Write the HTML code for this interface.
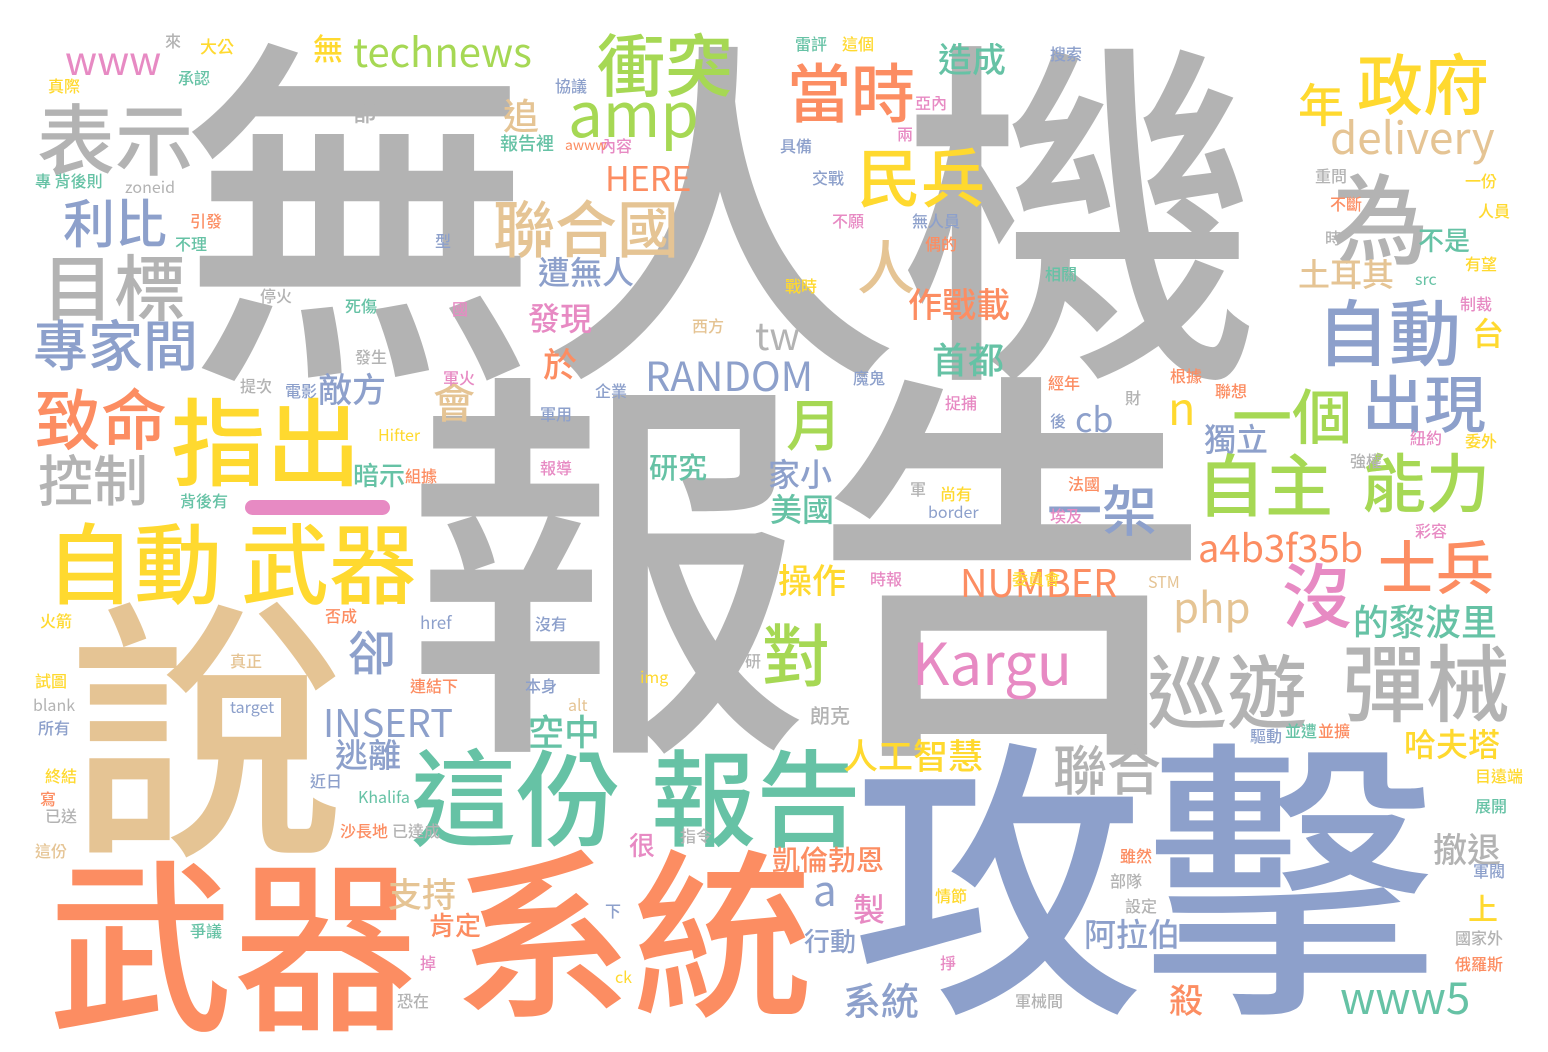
<!DOCTYPE html>
<html><head><meta charset="utf-8">
<style>
html,body{margin:0;padding:0;background:#fff;}
#cloud{position:relative;width:1548px;height:1052px;overflow:hidden;background:#fff;}
.w{position:absolute;white-space:nowrap;line-height:1;font-family:"Noto Sans CJK TC","Noto Sans CJK SC","Liberation Sans",sans-serif;font-weight:500;}
.w.lat{font-weight:400;}
</style></head>
<body>
<div id="cloud">
<div style="position:absolute;left:245px;top:500px;width:145px;height:15px;border-radius:8px;background:#e78ac3;"></div>
</div>
<script>
const G="#b3b3b3",O="#fc8d62",B="#8da0cb",P="#e78ac3",L="#a6d854",Y="#ffd92f",N="#e5c494",T="#66c2a5";
// [text, left, top, size, color]
const words=[
["無人機",180,13,360,G],["報告",404,340,405,G],["攻擊",852,718,292,B],["說",69,577,275,N],
["武器",48,844,185,O],["系統",453,834,180,O],["這份",411,745,105,T],["報告",651,745,105,T],
["自動",46,520,88,Y],["武器",241,520,88,Y],["指出",171,394,95,Y],["表示",37,100,78,G],
["目標",42,251,72,G],["專家間",33,317,55,B],["利比",63,197,52,B],["致命",35,386,66,O],
["控制",38,452,55,G],["衝突",597,31,68,L],["amp",568,79,62,L],["technews",353,30,40,L],
["www",65,38,40,P],["當時",787,61,64,O],["民兵",857,146,64,Y],["聯合國",493,196,62,N],
["政府",1357,51,66,Y],["年",1298,82,46,Y],["delivery",1330,113,44,N],["為",1331,169,98,G],
["自動",1317,296,72,B],["出現",1362,371,62,B],["n",1168,383,45,Y],["一個",1232,386,60,L],
["獨立",1204,423,32,B],["自主",1197,451,68,L],["能力",1362,451,64,L],["a4b3f35b",1198,527,38,O],
["沒",1282,561,70,P],["士兵",1378,537,58,O],["php",1173,585,42,N],["的黎波里",1353,603,36,T],
["巡遊",1147,651,80,G],["彈械",1342,641,84,G],["Kargu",912,631,58,P],["聯合",1053,742,54,G],
["哈夫塔",1404,728,32,Y],["撤退",1433,832,34,G],["上",1468,893,30,Y],["阿拉伯",1084,918,32,B],
["殺",1169,983,34,O],["www5",1340,973,44,T],["系統",843,982,38,B],["行動",804,929,26,B],
["凱倫勃恩",772,846,28,O],["製",853,893,32,P],["a",813,868,42,B],["很",629,833,26,P],
["支持",388,877,34,N],["肯定",429,913,26,O],["空中",528,713,36,T],["逃離",335,738,33,B],
["人工智慧",843,738,35,Y],["INSERT",323,702,38,B],["卻",348,627,48,B],["對",762,621,68,L],
["操作",778,563,34,Y],["NUMBER",960,562,38,O],["一架",1047,482,55,B],["cb",1075,401,34,B],
["美國",770,493,32,T],["家小",768,458,32,B],["研究",649,453,29,T],["月",786,397,56,L],
["人",857,237,58,N],["tw",755,315,38,G],["RANDOM",645,354,40,B],["HERE",605,160,34,O],
["遭無人",538,256,32,B],["發現",528,302,32,P],["於",543,347,34,O],["會",433,382,42,N],
["敵方",318,372,34,B],["暗示",353,463,26,T],["造成",938,42,34,T],["首都",932,341,36,T],
["作戰載",908,287,34,O],["土耳其",1298,258,32,N],["不是",1418,228,26,T],["台",1472,317,32,Y],
["追",503,97,36,N],["無",313,33,30,Y],["都",352,100,24,G],["報告裡",500,135,18,T],
["大公",200,38,17,Y],["承認",178,70,16,T],["真際",48,78,16,Y],["專 背後則",35,173,16,T],
["引發",190,213,16,O],["不理",175,236,16,T],["型",435,233,16,B],["停火",260,288,16,G],
["死傷",345,298,16,T],["國",452,301,16,P],["電影",285,383,16,B],["發生",355,349,16,G],
["軍火",443,370,16,P],["企業",595,383,16,B],["提次",240,378,16,G],["軍用",540,406,16,B],
["報導",540,460,16,P],["背後有",180,493,16,T],["Hifter",378,426,16,Y],["否成",325,608,16,O],
["href",420,613,17,B],["沒有",535,616,16,B],["火箭",40,613,16,Y],["真正",230,653,16,N],
["試圖",35,673,16,Y],["blank",33,696,16,G],["所有",38,720,16,B],["target",230,698,16,B],
["連結下",410,678,16,O],["本身",525,678,16,B],["img",640,668,16,Y],["研",745,653,16,G],
["alt",568,696,16,N],["朗克",810,706,20,G],["近日",310,773,16,B],["Khalifa",358,788,16,T],
["沙長地",340,823,16,O],["終結",45,768,16,Y],["寫",40,791,16,O],["已送",45,808,16,G],
["這份",35,843,16,N],["已達成",392,823,16,G],["指令",680,828,16,G],["下",605,903,16,B],
["爭議",190,923,16,T],["掉",420,955,16,P],["恐在",397,993,16,G],["ck",615,968,16,Y],
["軍械間",1015,993,16,G],["情節",935,888,16,Y],["掙",940,955,16,P],["部隊",1110,873,16,G],
["設定",1125,898,16,G],["雖然",1120,848,16,O],["國家外",1455,930,16,G],["俄羅斯",1455,956,16,O],
["軍閥",1473,863,16,B],["並遭",1285,723,16,T],["並擴",1318,723,16,O],["驅動",1250,728,16,B],
["目遠端",1475,768,16,Y],["展開",1475,798,16,T],["西方",692,318,16,N],["戰時",785,278,16,Y],
["不願",832,213,16,P],["無人員",912,213,16,B],["偶的",925,236,16,O],["交戰",812,170,16,B],
["具備",780,138,16,B],["亞內",915,95,16,P],["兩",897,126,16,P],["雷評",795,36,16,T],
["這個",842,36,16,Y],["搜索",1050,46,16,B],["內容",600,138,16,P],["協議",555,78,16,B],
["zoneid",125,178,16,G],["一份",1465,173,16,Y],["人員",1478,203,16,Y],["不斷",1330,196,16,O],
["重問",1315,168,16,G],["時",1325,230,16,G],["有望",1465,256,16,Y],["src",1415,270,16,T],
["制裁",1460,296,16,P],["相關",1045,266,16,T],["根據",1170,368,16,O],["聯想",1215,383,16,O],
["紐約",1410,430,16,P],["強權",1350,453,16,G],["委外",1465,433,16,Y],["經年",1048,375,16,O],
["財",1125,390,16,G],["後",1050,413,16,B],["法國",1068,476,16,O],["尚有",940,486,16,Y],
["border",928,503,16,B],["埃及",1050,508,16,P],["彩容",1415,523,16,P],["時報",870,571,16,P],
["委員會",1012,571,16,Y],["STM",1148,573,16,N],["軍",910,481,16,G],["捉捕",945,395,16,P],
["魔鬼",853,370,16,B],["組據",405,468,16,O],["來",165,33,16,G],["awww",565,138,14,O]
];
const cloud=document.getElementById('cloud');
words.forEach(function(d,i){
  const el=document.createElement('div');
  const isCjk=/[^\x00-\x7f]/.test(d[0]);
  el.className=isCjk ? 'w' : 'w lat';
  el.textContent=d[0];
  const shift=isCjk && d[3]<180;
  el.style.left=d[1]+'px';
  el.style.top=(shift ? d[2]-0.04*d[3] : d[2])+'px';
  el.style.fontSize=d[3]+'px';
  el.style.color=d[4];
  
  
  cloud.appendChild(el);
});
</script>
</body></html>
